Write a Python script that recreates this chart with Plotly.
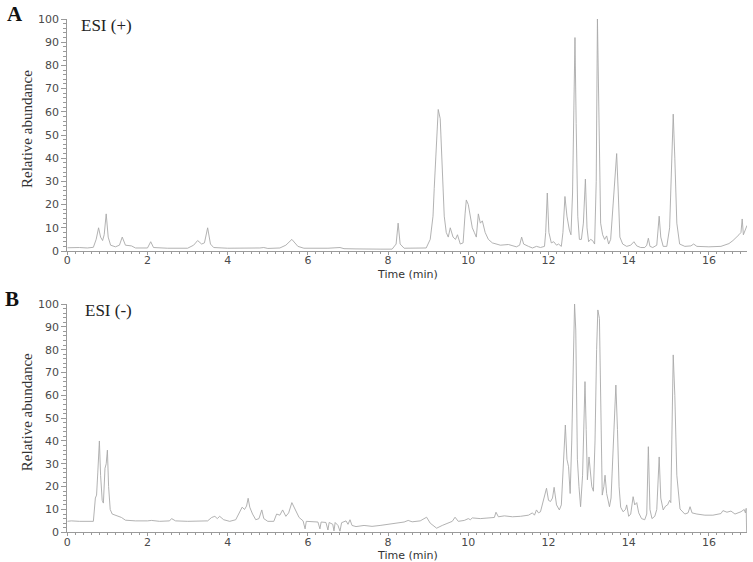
import plotly.graph_objects as go

# ---------------- data ----------------
time_pos = [0.0, 0.1, 0.3, 0.5, 0.65, 0.72, 0.78, 0.83, 0.88, 0.92, 0.97, 1.02, 1.08, 1.2, 1.3, 1.37,
            1.45, 1.6, 1.7, 2.0, 2.08, 2.15, 2.5, 3.0, 3.15, 3.25, 3.35, 3.42, 3.5, 3.57, 3.65, 4.0,
            4.5, 4.8, 4.9, 5.0, 5.3, 5.45, 5.6, 5.75, 5.9, 6.3, 6.5, 6.8, 6.9, 7.2, 7.5, 7.8, 8.1,
            8.2, 8.25, 8.3, 8.4, 8.7, 8.95, 9.05, 9.12, 9.15, 9.2, 9.25, 9.3, 9.35, 9.4, 9.45, 9.5,
            9.55, 9.62, 9.68, 9.73, 9.8, 9.87, 9.92, 9.95, 10.0, 10.05, 10.1, 10.15, 10.2, 10.25,
            10.3, 10.35, 10.42, 10.5, 10.6, 10.8, 11.0, 11.2, 11.28, 11.33, 11.38, 11.5, 11.6, 11.7,
            11.8, 11.9, 11.93, 11.97, 12.01, 12.07, 12.13, 12.2, 12.25, 12.32, 12.36, 12.41, 12.46,
            12.52, 12.56, 12.6, 12.63, 12.66, 12.69, 12.73, 12.77, 12.82, 12.87, 12.92, 12.96, 13.0,
            13.05, 13.1, 13.15, 13.19, 13.22, 13.26, 13.3, 13.35, 13.4, 13.45, 13.5, 13.55, 13.6,
            13.65, 13.7, 13.74, 13.78, 13.85, 13.95, 14.05, 14.13, 14.2, 14.3, 14.4, 14.45, 14.49,
            14.53, 14.6, 14.7, 14.76, 14.8, 14.86, 14.95, 15.02, 15.08, 15.11, 15.15, 15.2, 15.27,
            15.4, 15.55, 15.62, 15.7, 16.0, 16.3, 16.5, 16.6, 16.7, 16.75, 16.8, 16.83, 16.86, 16.9,
            16.95]
abund_pos = [1.4, 1.5, 1.5, 1.3, 1.6, 5, 10, 6, 4.5, 7, 16, 6, 2.5, 1.8, 2.5, 6,
             2.5, 2.2, 1.3, 1.3, 4, 1.5, 1.2, 1.2, 2.5, 4.5, 3, 3.5, 10, 3, 1.5, 1.2,
             1.1, 1.3, 1.5, 1.1, 1.3, 2.5, 5, 2, 1.2, 1.0, 1.2, 1.5, 1.0, 0.9, 1.0, 0.8, 0.8,
             3, 12, 3, 1.2, 1.1, 1.3, 5, 15, 27, 45, 61, 57, 35, 15, 8, 6,
             10, 6, 5, 7, 3, 3.5, 16, 22, 20, 15, 10, 8, 6, 16,
             12, 13, 8, 5, 3.5, 2.5, 2.8, 1.8, 2.5, 6, 3, 2, 1.3, 2,
             1.5, 2, 8, 25, 8, 3.5, 4, 2.5, 3, 2, 8, 23.5, 15,
             9, 7, 25, 60, 92, 55, 15, 5, 5, 12, 31, 10, 4,
             5, 4.5, 3, 30, 100, 45, 12, 7, 5, 6.5, 3, 5, 18,
             30, 42, 25, 6, 3, 2, 2.5, 4, 2.2, 1.5, 1.5, 2.5, 5.5,
             2, 1.5, 2.5, 15, 6, 2, 2, 10, 45, 59, 40, 12, 3,
             2, 2.2, 3, 2, 1.8, 2, 3.2, 4.5, 6, 7, 8, 13.8, 7, 9,
             11]

time_neg = [0.0, 0.1, 0.3, 0.5, 0.65, 0.7, 0.73, 0.76, 0.8, 0.83, 0.87, 0.9, 0.94, 0.97, 1.0, 1.03,
            1.07, 1.12, 1.25, 1.35, 1.45, 1.7, 2.0, 2.1, 2.3, 2.55, 2.6, 2.7, 3.0, 3.3, 3.5, 3.6,
            3.68, 3.74, 3.8, 3.9, 4.05, 4.2, 4.3, 4.36, 4.42, 4.47, 4.51, 4.55, 4.62, 4.7, 4.78,
            4.85, 4.9, 5.0, 5.15, 5.22, 5.3, 5.37, 5.45, 5.52, 5.6, 5.68, 5.78, 5.88, 5.93, 5.96,
            6.1, 6.25, 6.3, 6.33, 6.45, 6.5, 6.53, 6.62, 6.65, 6.68, 6.75, 6.8, 6.84, 6.95, 7.0,
            7.05, 7.1, 7.2, 7.4, 7.6, 7.8, 8.0, 8.2, 8.4, 8.5, 8.6, 8.8, 8.96, 9.05, 9.21, 9.35,
            9.5, 9.6, 9.67, 9.75, 9.9, 10.0, 10.05, 10.1, 10.3, 10.5, 10.65, 10.69, 10.75, 10.9,
            11.1, 11.3, 11.5, 11.6, 11.65, 11.7, 11.75, 11.8, 11.88, 11.95, 12.0, 12.05, 12.1,
            12.14, 12.2, 12.27, 12.32, 12.38, 12.42, 12.46, 12.5, 12.54, 12.58, 12.62, 12.65,
            12.68, 12.72, 12.76, 12.8, 12.85, 12.91, 12.94, 12.97, 13.01, 13.05, 13.08, 13.12,
            13.16, 13.2, 13.23, 13.27, 13.3, 13.34, 13.38, 13.41, 13.45, 13.52, 13.56, 13.6,
            13.64, 13.68, 13.72, 13.76, 13.8, 13.86, 13.92, 13.95, 14.0, 14.05, 14.11, 14.15,
            14.2, 14.25, 14.32, 14.4, 14.45, 14.49, 14.53, 14.58, 14.65, 14.7, 14.76, 14.8,
            14.86, 14.92, 14.97, 15.02, 15.05, 15.08, 15.11, 15.15, 15.2, 15.28, 15.4, 15.48,
            15.53, 15.58, 15.7, 15.9, 16.1, 16.3, 16.35, 16.45, 16.55, 16.65, 16.8, 16.88,
            16.91, 16.93, 16.94]
abund_neg = [4.8, 5, 4.8, 4.7, 4.8, 15, 16.3, 26, 40, 25, 14, 12.8, 28, 30, 36, 20,
             10, 8, 7, 6.5, 5.3, 5, 5, 5.2, 4.8, 5, 6, 5, 4.8, 4.8, 5, 6.5,
             7, 6, 7, 5.5, 4.8, 5.5, 9, 11, 10, 11.5, 14.9, 11, 8, 5.5, 6,
             9.8, 6, 4.8, 4.8, 8, 7.5, 9.8, 7, 8.5, 13, 10, 6.5, 5, 1.5, 4.8,
             4.6, 4.5, 1.5, 4.5, 4.3, 1.0, 4.3, 3.5, 0.6, 4.3, 3, 0.5, 4.2, 5, 3.5,
             5.5, 3, 2.5, 3, 2.6, 3, 3.5, 3.8, 4.5, 5.2, 4.6, 5, 6.6, 4, 1.8, 3,
             4.2, 4.8, 6.6, 4.8, 5.2, 6, 5.5, 6.3, 6, 6.2, 6.5, 8.8, 6.8, 7.2,
             6.8, 7, 7.5, 8.5, 7.5, 9.8, 8.5, 9, 14, 19.3, 14, 13.5, 15,
             19.7, 12, 9.8, 12, 30, 47, 32, 28.7, 17, 40, 75, 100,
             88.6, 32, 20, 11.2, 25, 66, 45, 23, 33, 27, 20, 18,
             40, 80, 97.4, 93.7, 60, 16.3, 20, 25, 17, 11.2, 15, 31.7,
             50, 64.5, 45, 20, 11, 9, 10, 12, 7, 8, 15.6, 12,
             13, 8.5, 6, 5.5, 8, 37.5, 10, 6, 7, 10, 33, 15,
             9.8, 11.5, 12, 14, 13, 50, 77.7, 60, 25, 10.2, 8, 8.5,
             11.2, 8.5, 8, 7.5, 7.5, 8.2, 9.5, 8.8, 9.3, 8, 9, 10,
             8.5, 10.5, 0]

panel_labels = ["A", "B"]
mode_labels = ["ESI (+)", "ESI (-)"]
x_tick_vals = [0, 2, 4, 6, 8, 10, 12, 14, 16]
y_tick_vals = [0, 10, 20, 30, 40, 50, 60, 70, 80, 90, 100]

# ---------------- figure ----------------
W, H = 753, 562
line_color = "#a9a9a9"
axis_color = "#9a9a9a"
tick_font = dict(family="DejaVu Sans", size=11, color="#4a4a4a")

def px_x(p):
    return p / W

def px_y(p):
    return 1 - p / H

fig = go.Figure()
fig.add_trace(go.Scatter(x=time_pos, y=abund_pos, mode="lines",
                         line=dict(color=line_color, width=0.9),
                         xaxis="x", yaxis="y", showlegend=False, hoverinfo="skip"))
fig.add_trace(go.Scatter(x=time_neg, y=abund_neg, mode="lines",
                         line=dict(color=line_color, width=0.9),
                         xaxis="x2", yaxis="y2", showlegend=False, hoverinfo="skip"))

xdom = [px_x(67.3), px_x(747.0)]
ydomA = [px_y(251.0), px_y(19.0)]
ydomB = [px_y(532.3), px_y(304.0)]

def xaxis_cfg(anchor):
    return dict(domain=xdom, range=[0, 16.95], anchor=anchor, automargin=False,
                tickvals=x_tick_vals, ticktext=[str(v) for v in x_tick_vals],
                showline=True, linecolor=axis_color, linewidth=1,
                ticks="outside", ticklen=3, tickcolor=axis_color, tickwidth=1,
                ticklabelstandoff=-4,
                minor=dict(dtick=0.2, ticklen=2, tickcolor=axis_color, ticks="outside"),
                showgrid=False, zeroline=False, tickfont=tick_font)

def yaxis_cfg(dom, anchor):
    return dict(domain=dom, range=[0, 100], anchor=anchor, automargin=False,
                tickvals=y_tick_vals, ticktext=[str(v) for v in y_tick_vals],
                showline=True, linecolor=axis_color, linewidth=1,
                ticks="outside", ticklen=5, tickcolor=axis_color, tickwidth=1,
                minor=dict(dtick=2, ticklen=3, tickcolor=axis_color, ticks="outside"),
                showgrid=False, zeroline=False, tickfont=tick_font)

fig.update_layout(
    width=W, height=H,
    margin=dict(l=0, r=0, t=0, b=0, autoexpand=False),
    paper_bgcolor="white", plot_bgcolor="white",
    xaxis=xaxis_cfg("y"), yaxis=yaxis_cfg(ydomA, "x"),
    xaxis2=xaxis_cfg("y2"), yaxis2=yaxis_cfg(ydomB, "x2"),
)

annos = []
for i, (pl, ml) in enumerate(zip(panel_labels, mode_labels)):
    ytop = [19.0, 304.0][i]
    ybot = [251.0, 532.3][i]
    # panel letter
    annos.append(dict(text="<b>%s</b>" % pl, x=px_x([15, 12][i]), y=px_y(ytop - 5),
                      xref="paper", yref="paper", showarrow=False, borderpad=0,
                      font=dict(family="Liberation Serif", size=21, color="#111111"),
                      xanchor="center", yanchor="middle"))
    # ionisation mode
    annos.append(dict(text=ml, x=px_x([80, 84][i]), y=px_y(ytop + 6),
                      xref="paper", yref="paper", showarrow=False, borderpad=0,
                      font=dict(family="Liberation Serif", size=17, color="#222222"),
                      xanchor="left", yanchor="middle"))
    # y title
    annos.append(dict(text="Relative abundance", x=px_x(27), y=px_y((ytop + ybot) / 2 - 6),
                      xref="paper", yref="paper", showarrow=False, textangle=-90, borderpad=0,
                      font=dict(family="Liberation Serif", size=15, color="#333333"),
                      xanchor="center", yanchor="middle"))
    # x title
    annos.append(dict(text="Time (min)", x=px_x(407), y=px_y(ybot + 23),
                      xref="paper", yref="paper", showarrow=False, borderpad=0,
                      font=dict(family="DejaVu Sans", size=11, color="#333333"),
                      xanchor="center", yanchor="middle"))
fig.update_layout(annotations=annos)

fig.write_html("out.html",
               config={"displayModeBar": False},
               post_script="document.body.style.margin='0';document.body.style.padding='0';")
